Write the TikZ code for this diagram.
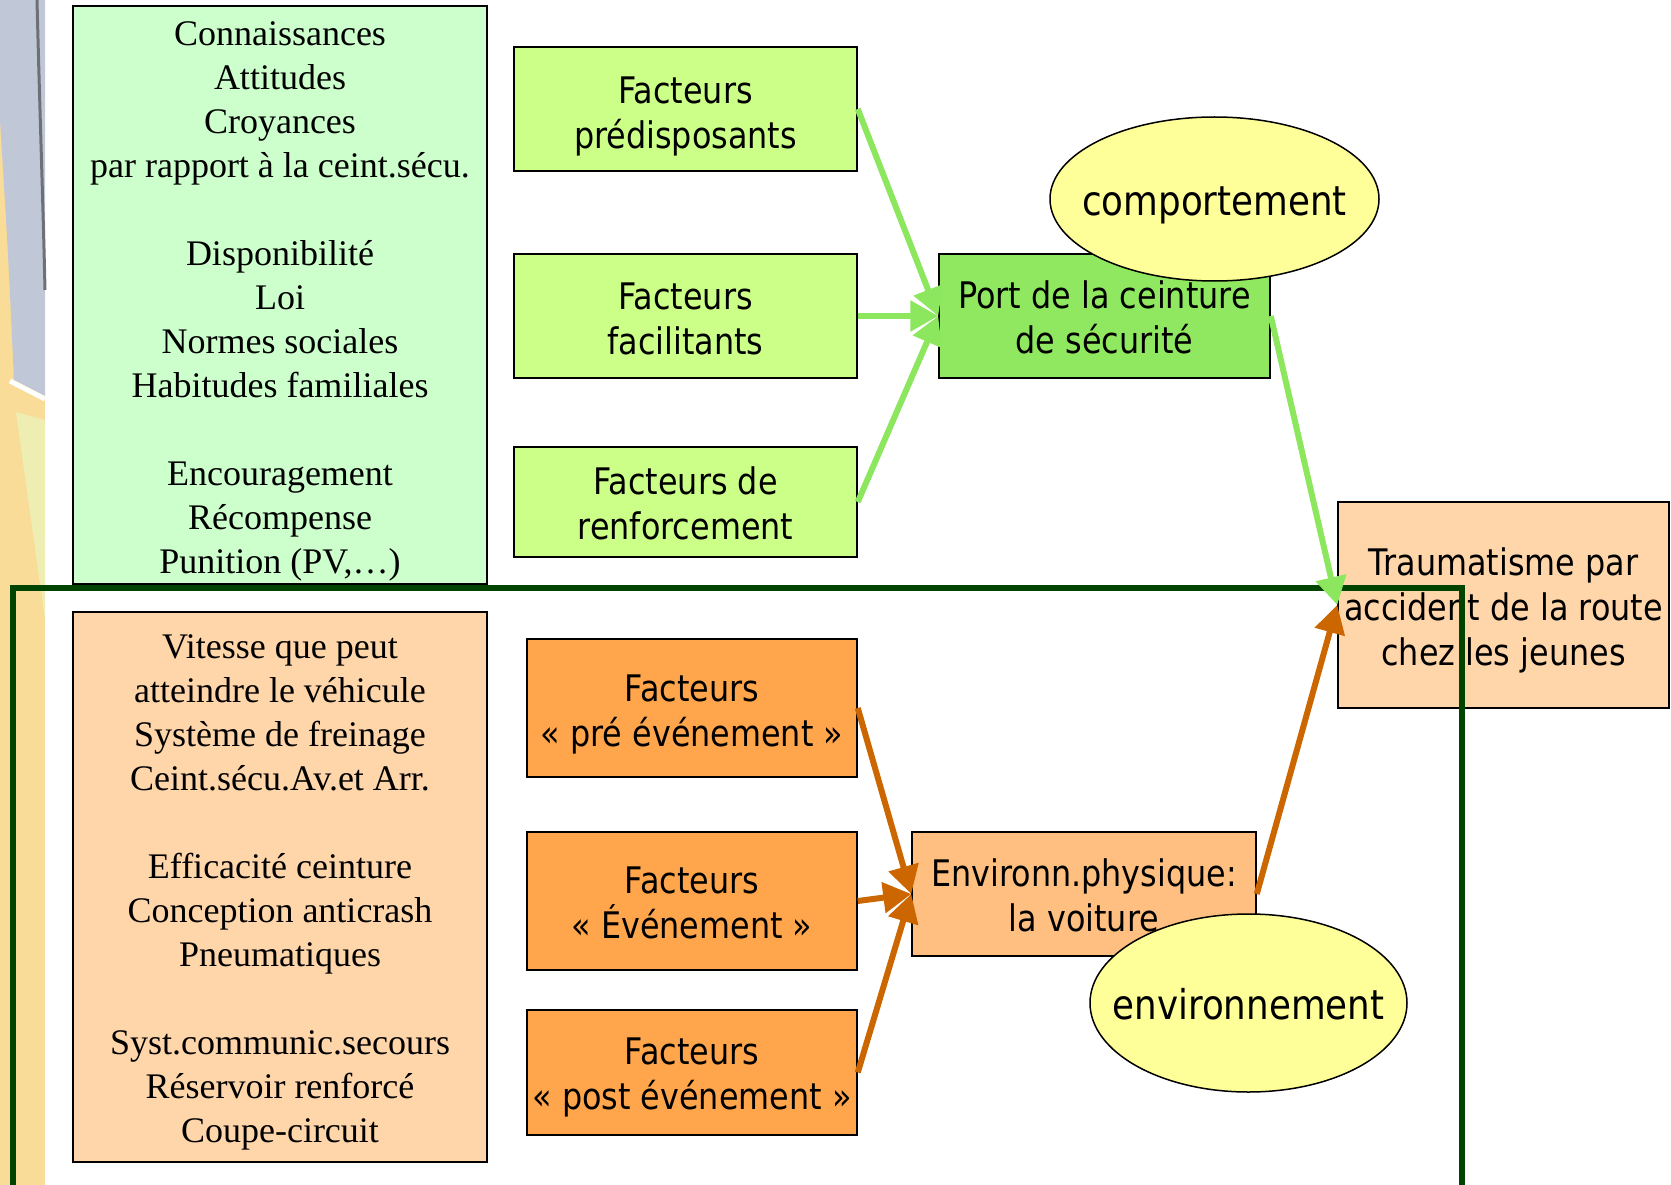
\documentclass[tikz,border=0pt]{standalone}
\usepackage{fontspec}
\setmainfont{Liberation Serif}
\newfontfamily\tah[FakeStretch=0.87]{DejaVu Sans}
\usetikzlibrary{arrows.meta,shapes.geometric}
\definecolor{paleGreen}{HTML}{CCFFCC}
\definecolor{limeBox}{HTML}{CCFF88}
\definecolor{portGreen}{HTML}{8FE860}
\definecolor{arrGreen}{HTML}{8CE65E}
\definecolor{peach}{HTML}{FFD6AA}
\definecolor{orangeBox}{HTML}{FFA64C}
\definecolor{envBox}{HTML}{FFBF80}
\definecolor{arrOrange}{HTML}{CC6600}
\definecolor{ovalYellow}{HTML}{FFFF99}
\definecolor{frameGreen}{HTML}{004400}
\definecolor{stripYellow}{HTML}{F8DC98}
\definecolor{stripBlue}{HTML}{C0C7D6}
\definecolor{stripPale}{HTML}{EEEDB2}
\definecolor{stripDark}{HTML}{6E7078}
\begin{document}
\begin{tikzpicture}[x=1pt,y=-1pt,
  box/.style={rectangle,draw=black,line width=1.5pt,inner sep=0pt},
  seriftxt/.style={inner sep=0pt,align=center,font=\fontsize{36}{44}\selectfont},
  sanstxt/.style={inner sep=0pt,align=center,font=\tah\fontsize{36.6}{45}\selectfont},
  oval/.style={ellipse,draw=black,line width=1.5pt,fill=ovalYellow,inner sep=0pt},
  ovaltxt/.style={inner sep=0pt,font=\tah\fontsize{41}{48}\selectfont},
  garrow/.style={draw=arrGreen,line width=6pt,-{Triangle[length=28pt,width=30pt]}},
  oarrow/.style={draw=arrOrange,line width=6pt,-{Triangle[length=28pt,width=30pt]}},
  frameline/.style={draw=frameGreen,line width=6pt}]
\useasboundingbox (0,0) rectangle (1671,1185);
% left decorative strip
\fill[stripYellow] (0,0) rectangle (45,1185);
\fill[stripBlue] (0,0) -- (45,0) -- (45,396) -- (14,380) .. controls (8,250) .. (0,120) -- cycle;
\fill[stripPale] (16,412) -- (45,420) -- (45,620) -- cycle;
\draw[white,line width=5pt] (10,381) -- (45,399);
\draw[stripDark,line width=3pt] (37,0) .. controls (40,120) and (43,200) .. (45,290);
% left boxes
\node[box,fill=paleGreen,minimum width=414,minimum height=578] (know) at (280,295) {};
\node[seriftxt] (knowT) at ([yshift=-6pt]know.center)
 {Connaissances\\Attitudes\\Croyances\\par rapport à la ceint.sécu.\\[44pt]Disponibilité\\Loi\\Normes sociales\\Habitudes familiales\\[44pt]Encouragement\\Récompense\\Punition (PV,…)};
\node[box,fill=peach,minimum width=414,minimum height=550] (tech) at (280,887) {};
\node[seriftxt] (techT) at ([yshift=-5pt]tech.center)
 {Vitesse que peut\\atteindre le véhicule\\Système de freinage\\Ceint.sécu.Av.et Arr.\\[44pt]Efficacité ceinture\\Conception anticrash\\Pneumatiques\\[44pt]Syst.communic.secours\\Réservoir renforcé\\Coupe-circuit};
% factor boxes
\node[box,fill=limeBox,minimum width=343,minimum height=124] (pred) at (685.5,109) {};
\node[sanstxt] (predT) at ([yshift=-7pt]pred.center) {Facteurs\\prédisposants};
\node[box,fill=limeBox,minimum width=343,minimum height=124] (facil) at (685.5,316) {};
\node[sanstxt] (facilT) at ([yshift=-2.5pt]facil.center) {Facteurs\\facilitants};
\node[box,fill=limeBox,minimum width=343,minimum height=110] (renf) at (685.5,502) {};
\node[sanstxt] (renfT) at ([yshift=-1pt]renf.center) {Facteurs de\\renforcement};
\node[box,fill=orangeBox,minimum width=330,minimum height=138] (pre) at (692,708) {};
\node[sanstxt] (preT) at ([yshift=-6pt]pre.center) {Facteurs\\« pré événement »};
\node[box,fill=orangeBox,minimum width=330,minimum height=138] (evt) at (692,901) {};
\node[sanstxt] (evtT) at ([yshift=-2pt]evt.center) {Facteurs\\« Événement »};
\node[box,fill=orangeBox,minimum width=330,minimum height=125] (post) at (692,1072.5) {};
\node[sanstxt] (postT) at ([yshift=-5pt]post.center) {Facteurs\\« post événement »};
% central boxes
\node[box,fill=portGreen,minimum width=331,minimum height=124] (port) at (1104.5,316) {};
\node[sanstxt] (portT) at ([yshift=-1.5pt]port.center) {Port de la ceinture\\de sécurité};
\node[box,fill=envBox,minimum width=344,minimum height=124] (env) at (1084,894) {};
\node[sanstxt] (envT) at ([yshift=-1.5pt]env.center) {Environn.physique:\\la voiture};
\node[box,fill=peach,minimum width=331,minimum height=206] (trauma) at (1503.5,605) {};
\node[sanstxt] (traumaT) at ([yshift=-5pt]trauma.center) {Traumatisme par\\accident de la route\\chez les jeunes};
% ellipses
\node[oval,minimum width=329,minimum height=164] (comp) at (1214.5,199) {};
\node[ovaltxt] (compT) at ([yshift=-6pt]comp.center) {comportement};
\node[oval,minimum width=317,minimum height=178] (envir) at (1248.5,1003) {};
\node[ovaltxt] (envirT) at ([yshift=-1pt]envir.center) {environnement};
% frame
\draw[frameline] (13,1190) -- (13,588) -- (1462,588) -- (1462,1190);
% arrows
\draw[garrow] (pred.east) -- (port.west);
\draw[garrow] (facil.east) -- (port.west);
\draw[garrow] (renf.east) -- (port.west);
\draw[garrow] (port.east) -- (trauma.west);
\draw[oarrow] (pre.east) -- (env.west);
\draw[oarrow] (evt.east) -- (env.west);
\draw[oarrow] (post.east) -- (env.west);
\draw[oarrow] (env.east) -- (trauma.west);
\end{tikzpicture}
\end{document}
